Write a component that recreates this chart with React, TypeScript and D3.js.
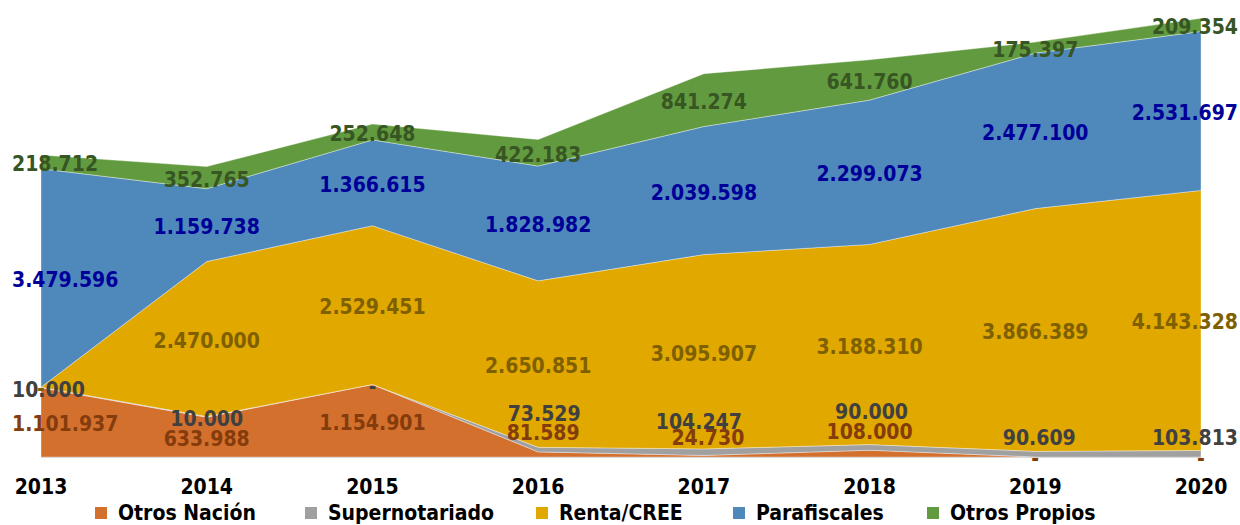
import React, { useEffect, useRef } from "react";
import * as d3 from "d3";

const years = ["2013", "2014", "2015", "2016", "2017", "2018", "2019", "2020"];
const seriesNames = ["Otros Nación", "Supernotariado", "Renta/CREE", "Parafiscales", "Otros Propios"];
const otrosNacion = [1101937, 633988, 1154901, 81589, 24730, 108000, 0, 0];
const supernotariado = [10000, 10000, 0, 73529, 104247, 90000, 90609, 103813];
const rentaCree = [0, 2470000, 2529451, 2650851, 3095907, 3188310, 3866389, 4143328];
const parafiscales = [3479596, 1159738, 1366615, 1828982, 2039598, 2299073, 2477100, 2531697];
const otrosPropios = [218712, 352765, 252648, 422183, 841274, 641760, 175397, 209354];

const seriesValues = [otrosNacion, supernotariado, rentaCree, parafiscales, otrosPropios];

const fillColors = ["#D4702E", "#A0A0A0", "#E1A800", "#4F88BB", "#629B3F"];
const labelColors = ["#843C0C", "#404040", "#7F6000", "#000099", "#375623"];

// manual label nudges (px) for labels that were moved off their thin bands
const labelNudges: Record<string, [number, number]> = {
  "Supernotariado|2016": [6, -38],
  "Supernotariado|2017": [-5, -32],
  "Supernotariado|2018": [2, -37],
  "Supernotariado|2019": [4, -18],
  "Supernotariado|2020": [0, -18],
  "Otros Nación|2016": [5, -23],
  "Otros Nación|2017": [4, -20],
  "Otros Nación|2018": [0, -24],
};

const legendX = [95, 305, 536, 733, 927];

const W = 1240;
const H = 525;
const FONT = "'DejaVu Sans Condensed', 'DejaVu Sans', sans-serif";

export default function App() {
  const ref = useRef<SVGSVGElement | null>(null);

  useEffect(() => {
    const svg = d3.select(ref.current);
    svg.selectAll("*").remove();

    const rows = years.map((y, j) => {
      const r: any = { year: y };
      seriesNames.forEach((s, i) => (r[s] = seriesValues[i][j]));
      return r;
    });
    const stacked = d3.stack<any>().keys(seriesNames)(rows);

    const x = d3.scalePoint<string>().domain(years).range([41, 1201]);
    const yS = d3.scaleLinear().domain([0, 7000000]).range([457, 17.6]);

    const area = d3
      .area<any>()
      .x((d) => x(d.data.year)!)
      .y0((d) => yS(d[0]))
      .y1((d) => yS(d[1]));

    svg
      .append("g")
      .selectAll("path")
      .data(stacked)
      .join("path")
      .attr("d", (d) => area(d as any)!)
      .attr("fill", (d, i) => fillColors[i])
      .attr("stroke", "#ffffff")
      .attr("stroke-opacity", 0.45)
      .attr("stroke-width", 0.8);

    svg
      .append("line")
      .attr("x1", x(years[0])!)
      .attr("x2", x(years[years.length - 1])!)
      .attr("y1", 457.5)
      .attr("y2", 457.5)
      .attr("stroke", "#D9D9D9")
      .attr("stroke-width", 1);

    const fmt = d3.formatLocale({ decimal: ",", thousands: ".", grouping: [3], currency: ["", ""] }).format(",d");

    const lg = svg.append("g");
    stacked.forEach((layer, i) => {
      layer.forEach((d: any, j: number) => {
        const name = seriesNames[i];
        const yr = years[j];
        const v = seriesValues[i][j];
        const nudge = labelNudges[name + "|" + yr] || [0, 0];
        const cx = x(yr)! + nudge[0];
        const cy = (yS(d[0]) + yS(d[1])) / 2 + 2 + nudge[1];
        const t = lg
          .append("text")
          .attr("x", cx)
          .attr("y", cy)
          .attr("text-anchor", "middle")
          .attr("dominant-baseline", "central")
          .attr("font-family", FONT)
          .attr("font-weight", "bold")
          .attr("font-size", 21)
          .attr("fill", labelColors[i])
          .text(v === 0 ? "-" : fmt(v));
        const w = (t.node() as SVGTextElement).getComputedTextLength();
        let nx = cx;
        if (nx - w / 2 < 12) nx = 12 + w / 2;
        if (nx + w / 2 > 1238) nx = 1238 - w / 2;
        t.attr("x", nx);
      });
    });

    svg
      .append("g")
      .selectAll("text")
      .data(years)
      .join("text")
      .attr("x", (d) => x(d)!)
      .attr("y", 487)
      .attr("text-anchor", "middle")
      .attr("dominant-baseline", "central")
      .attr("font-family", FONT)
      .attr("font-weight", "bold")
      .attr("font-size", 21)
      .attr("fill", "#000000")
      .text((d) => d);

    const leg = svg.append("g");
    seriesNames.forEach((s, i) => {
      leg
        .append("rect")
        .attr("x", legendX[i])
        .attr("y", 507)
        .attr("width", 12)
        .attr("height", 12)
        .attr("fill", fillColors[i]);
      leg
        .append("text")
        .attr("x", legendX[i] + 23)
        .attr("y", 513)
        .attr("dominant-baseline", "central")
        .attr("font-family", FONT)
        .attr("font-weight", "bold")
        .attr("font-size", 21)
        .attr("fill", "#000000")
        .text(s);
    });
  }, []);

  return (
    <svg
      ref={ref}
      width={W}
      height={H}
      style={{ position: "absolute", left: 0, top: 0, background: "#ffffff", fontStretch: "condensed" }}
    />
  );
}
